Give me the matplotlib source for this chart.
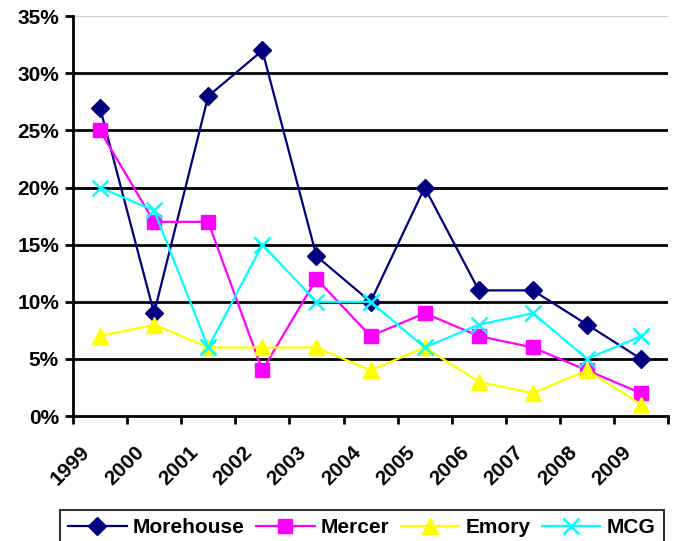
import numpy as np
import matplotlib.pyplot as plt
from matplotlib.ticker import FixedLocator, PercentFormatter

years = ['1999', '2000', '2001', '2002', '2003', '2004',
         '2005', '2006', '2007', '2008', '2009']
morehouse = [27, 9, 28, 32, 14, 10, 20, 11, 11, 8, 5]
mercer = [25, 17, 17, 4, 12, 7, 9, 7, 6, 4, 2]
emory = [7, 8, 6, 6, 6, 4, 6, 3, 2, 4, 1]
mcg = [20, 18, 6, 15, 10, 10, 6, 8, 9, 5, 7]

plt.rcParams['font.family'] = ['Liberation Sans', 'DejaVu Sans']
plt.rcParams['font.weight'] = 'bold'
fs = 15

fig = plt.figure(figsize=(6.75, 5.41), dpi=100)
ax = fig.add_axes([0.108, 0.231, 0.882, 0.739])

x = np.arange(len(years)) + 0.5
ax.plot(x, morehouse, color='#000080', marker='D', markersize=9.5, lw=1.6,
        label='Morehouse')
ax.plot(x, mercer, color='#FF00FF', marker='s', markersize=10, lw=1.6,
        label='Mercer')
ax.plot(x, emory, color='#FFFF00', marker='^', markersize=11, lw=1.6,
        label='Emory')
ax.plot(x, mcg, color='#00FFFF', marker='x', markersize=11, mew=1.8, lw=1.6,
        label='MCG')

ax.set_xlim(0, len(years))
ax.set_ylim(0, 35)

# gridlines
for v in range(5, 35, 5):
    ax.axhline(v, color='black', lw=2, zorder=0)
ax.axhline(35, color='#C0C0C0', lw=1.2, zorder=0)

ax.set_yticks(range(0, 36, 5))
ax.yaxis.set_major_formatter(PercentFormatter(decimals=0))
ax.tick_params(axis='y', direction='out', length=6, width=2, labelsize=fs, pad=4)

ax.set_xticks(x - 0.36)
ax.set_xticklabels(years, rotation=45, ha='right', rotation_mode='anchor',
                   fontsize=fs, fontweight='bold')
ax.tick_params(axis='x', which='major', length=0, pad=19)
ax.xaxis.set_minor_locator(FixedLocator(np.arange(len(years) + 1)))
ax.tick_params(axis='x', which='minor', direction='out', length=6, width=2)

for lbl in ax.get_yticklabels():
    lbl.set_fontweight('bold')

for side in ['top', 'right']:
    ax.spines[side].set_visible(False)
ax.spines['left'].set_linewidth(2)
ax.spines['bottom'].set_linewidth(2)

leg = fig.legend(loc='lower center', bbox_to_anchor=(0.536, -0.027), ncol=4,
                 fontsize=fs, frameon=True, fancybox=False, edgecolor='black',
                 handlelength=2.8, columnspacing=0.55, handletextpad=0.3,
                 borderpad=0.4)
leg.get_frame().set_linewidth(1.5)
for t in leg.get_texts():
    t.set_fontweight('bold')

fig.savefig('out.png', dpi=100)
